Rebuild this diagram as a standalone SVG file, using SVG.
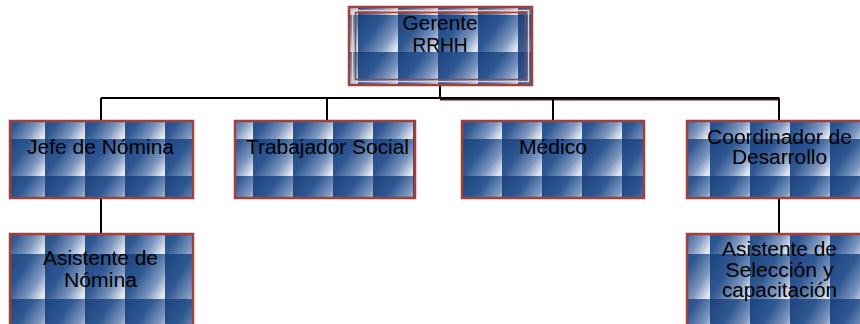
<svg xmlns="http://www.w3.org/2000/svg" width="860" height="324" viewBox="0 0 860 324">
  <defs>
    <!-- shaded blue tile used to fill every box -->
    <linearGradient id="tileShade" x1="0" y1="0.15" x2="1" y2="0.85">
      <stop offset="0" stop-color="#1f4580"/>
      <stop offset="0.4" stop-color="#2f5892"/>
      <stop offset="0.75" stop-color="#7d96bf"/>
      <stop offset="1" stop-color="#e2e6ee"/>
    </linearGradient>
    <pattern id="tile" patternUnits="userSpaceOnUse" x="0" y="0" width="40" height="37">
      <rect width="40" height="37" fill="url(#tileShade)"/>
    </pattern>
    <pattern id="tileTall" patternUnits="userSpaceOnUse" x="0" y="0" width="40" height="45">
      <rect width="40" height="45" fill="url(#tileShade)"/>
    </pattern>
  </defs>
  <style>
    .box { stroke: #a3403b; stroke-width: 2.5; }
    .upper { fill: url(#tile); }
    .lower { fill: url(#tileTall); }
    .inner1 { fill: none; stroke: #d4d4d4; stroke-width: 1.5; }
    .inner2 { fill: none; stroke: #a3403b; stroke-width: 1.5; }
    .lbl { font-family: "Liberation Sans", Arial, sans-serif; font-size: 19.5px; fill: #000; text-anchor: middle; }
    .wire { fill: none; stroke: #000; stroke-width: 2; }
    .wireRed { fill: none; stroke: #5a1512; stroke-width: 3.2; }
  </style>

  <!-- connectors -->
  <g id="connectors">
    <path class="wireRed" d="M440 99 H779.5"/>
    <path class="wire" d="M440 85 V98"/>
    <path class="wire" d="M101 98 H779"/>
    <path class="wire" d="M101 98 V121"/>
    <path class="wire" d="M327 98 V121"/>
    <path class="wire" d="M553 98 V121"/>
    <path class="wire" d="M779 98 V121"/>
    <path class="wire" d="M101 198 V234"/>
    <path class="wire" d="M779 198 V234"/>
  </g>

  <!-- top node -->
  <g id="gerente">
    <rect class="box upper" transform="translate(358 52)" x="-9" y="-45" width="183" height="78"/>
    <rect class="inner1" x="352.5" y="10.5" width="176" height="71"/>
    <rect class="inner2" x="355.5" y="12.5" width="170" height="67"/>
    <text class="lbl" x="440" y="30" textLength="75" lengthAdjust="spacingAndGlyphs">Gerente</text>
    <text class="lbl" x="440" y="52" textLength="55" lengthAdjust="spacingAndGlyphs">RRHH</text>
  </g>

  <!-- second level -->
  <g id="jefe-nomina">
    <rect class="box upper" transform="translate(45 139)" x="-35" y="-18" width="183" height="77"/>
    <text class="lbl" x="100.5" y="154" textLength="147" lengthAdjust="spacingAndGlyphs">Jefe de Nómina</text>
  </g>
  <g id="trabajador-social">
    <rect class="box upper" transform="translate(253 139)" x="-18" y="-18" width="180" height="77"/>
    <text class="lbl" x="327.5" y="154" textLength="163" lengthAdjust="spacingAndGlyphs">Trabajador Social</text>
  </g>
  <g id="medico">
    <rect class="box upper" transform="translate(502 139)" x="-40" y="-18" width="182" height="77"/>
    <text class="lbl" x="553" y="154" textLength="68" lengthAdjust="spacingAndGlyphs">Médico</text>
  </g>
  <g id="coordinador-desarrollo">
    <rect class="box upper" transform="translate(710 139)" x="-23" y="-18" width="183" height="77"/>
    <text class="lbl" x="779.5" y="144" textLength="145" lengthAdjust="spacingAndGlyphs">Coordinador de</text>
    <text class="lbl" x="779.5" y="164" textLength="95" lengthAdjust="spacingAndGlyphs">Desarrollo</text>
  </g>

  <!-- third level -->
  <g id="asistente-nomina">
    <rect class="box lower" transform="translate(45 254)" x="-35" y="-20" width="183" height="100"/>
    <text class="lbl" x="100.5" y="265" textLength="115" lengthAdjust="spacingAndGlyphs">Asistente de</text>
    <text class="lbl" x="100.5" y="287" textLength="73" lengthAdjust="spacingAndGlyphs">Nómina</text>
  </g>
  <g id="asistente-seleccion">
    <rect class="box lower" transform="translate(710 254)" x="-23" y="-20" width="183" height="100"/>
    <text class="lbl" x="779.5" y="256" textLength="115" lengthAdjust="spacingAndGlyphs">Asistente de</text>
    <text class="lbl" x="779.5" y="277" textLength="108" lengthAdjust="spacingAndGlyphs">Selección y</text>
    <text class="lbl" x="779.5" y="297" textLength="115" lengthAdjust="spacingAndGlyphs">capacitación</text>
  </g>
</svg>
